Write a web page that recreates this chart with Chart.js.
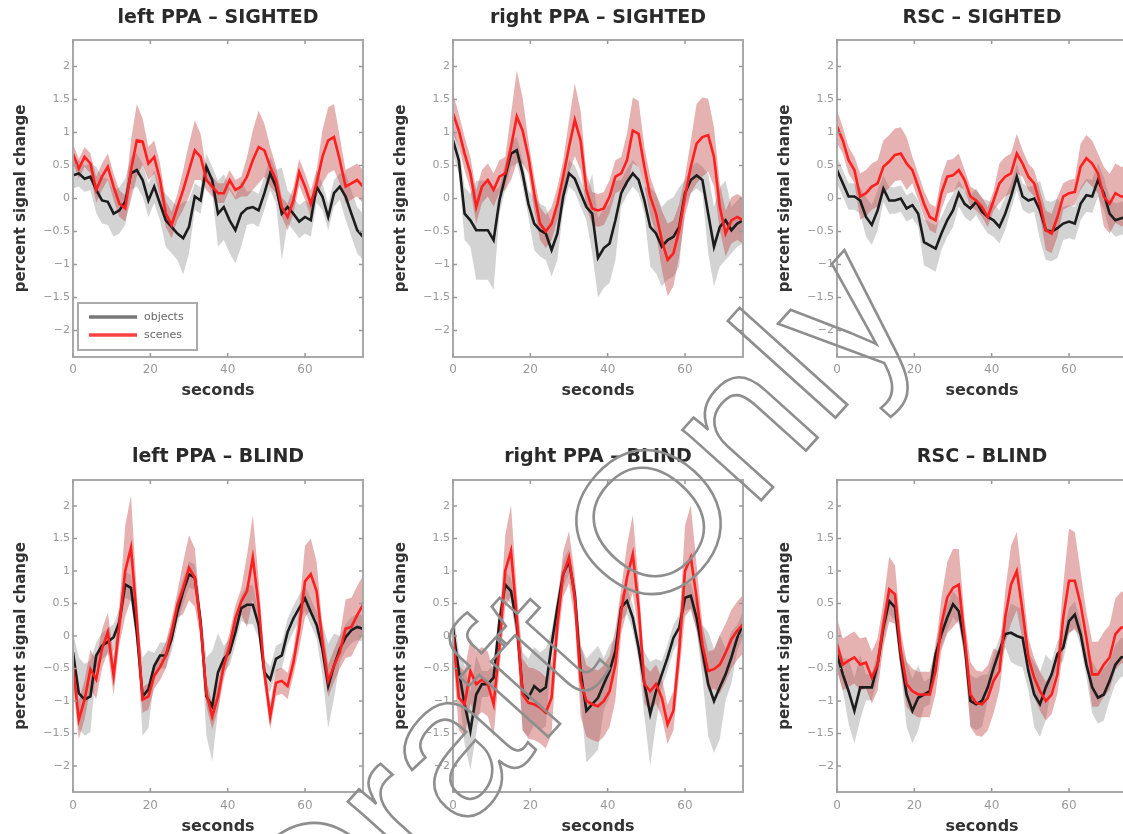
<!DOCTYPE html>
<html>
<head>
<meta charset="utf-8">
<script src="https://cdn.jsdelivr.net/npm/chart.js@4.4.1/dist/chart.umd.min.js"></script>
<style>
  html, body { margin: 0; padding: 0; background: #fff; width: 1123px; height: 834px; overflow: hidden; }
  canvas.panel { position: absolute; }
  #wm { position: absolute; left: 0; top: 0; pointer-events: none; }
</style>
</head>
<body>
<canvas id="c1" class="panel" width="372" height="410" style="left:0;top:0"></canvas>
<canvas id="c2" class="panel" width="372" height="410" style="left:380px;top:0"></canvas>
<canvas id="c3" class="panel" width="372" height="410" style="left:764px;top:0"></canvas>
<canvas id="c4" class="panel" width="372" height="420" style="left:0;top:430px"></canvas>
<canvas id="c5" class="panel" width="372" height="420" style="left:380px;top:430px"></canvas>
<canvas id="c6" class="panel" width="372" height="420" style="left:764px;top:430px"></canvas>
<svg id="wm" width="1123" height="834">
  <text x="622" y="655" text-anchor="middle" transform="rotate(-48 622 655)"
        font-family="Liberation Sans, Arial, sans-serif" font-size="200"
        fill="none" stroke="#8e8e8e" stroke-width="2.6">Draft Only</text>
</svg>
<script>
// eje de tiempo (segundos) y marcas
const seconds = [0,1.5,3,4.5,6,7.5,9,10.5,12,13.5,15,16.5,18,19.5,21,22.5,24,25.5,27,28.5,30,31.5,33,34.5,36,37.5,39,40.5,42,43.5,45,46.5,48,49.5,51,52.5,54,55.5,57,58.5,60,61.5,63,64.5,66,67.5,69,70.5,72,73.5,75];
const xTicks = [0, 20, 40, 60];
const yTicks = [-2, -1.5, -1, -0.5, 0, 0.5, 1, 1.5, 2];

// left PPA - SIGHTED
const lppaSightObj = [0.35,0.38,0.30,0.33,0.13,-0.03,-0.05,-0.23,-0.18,-0.05, 0.38,0.43,0.28,-0.03,0.18,-0.08,-0.33,-0.43,-0.53,-0.60, -0.43,0.03,-0.03,0.48,0.28,-0.23,-0.13,-0.33,-0.48,-0.23, -0.15,-0.13,-0.18,0.08,0.38,0.18,-0.23,-0.13,-0.23,-0.35, -0.28,-0.33,0.18,0.03,-0.28,0.08,0.18,0.03,-0.23,-0.48,-0.58];
const lppaSightObjSem = [0.2,0.2,0.2,0.2,0.35,0.35,0.35,0.35,0.35,0.35, 0.25,0.25,0.25,0.25,0.25,0.25,0.4,0.4,0.4,0.55, 0.4,0.2,0.2,0.2,0.2,0.5,0.5,0.5,0.5,0.5, 0.25,0.25,0.25,0.25,0.25,0.25,0.7,0.25,0.25,0.25, 0.25,0.25,0.25,0.2,0.2,0.2,0.2,0.35,0.35,0.35,0.35];
const lppaSightScn = [0.68,0.45,0.63,0.53,0.13,0.33,0.48,0.18,-0.08,-0.15, 0.43,0.88,0.86,0.53,0.63,0.28,-0.23,-0.40,-0.13,0.13, 0.43,0.73,0.63,0.28,0.18,0.08,0.08,0.28,0.13,0.18, 0.33,0.58,0.78,0.73,0.48,0.28,-0.13,-0.28,-0.03,0.40, 0.18,-0.08,0.23,0.63,0.88,0.93,0.58,0.18,0.23,0.28,0.18];
const lppaSightScnSem = [0.15,0.15,0.15,0.15,0.2,0.2,0.2,0.2,0.2,0.2, 0.45,0.55,0.35,0.25,0.25,0.25,0.2,0.2,0.2,0.3, 0.4,0.45,0.35,0.15,0.15,0.15,0.15,0.15,0.15,0.15, 0.3,0.45,0.55,0.4,0.3,0.2,0.15,0.2,0.2,0.2, 0.2,0.2,0.2,0.4,0.5,0.5,0.35,0.25,0.25,0.25,0.25];

// right PPA - SIGHTED
const rppaSightObj = [0.88,0.58,-0.23,-0.33,-0.48,-0.48,-0.48,-0.63,-0.03,0.33, 0.68,0.73,0.38,-0.08,-0.38,-0.48,-0.53,-0.78,-0.53,0.03, 0.38,0.30,0.08,-0.13,-0.23,-0.90,-0.75,-0.68,-0.33,0.08, 0.25,0.38,0.28,-0.03,-0.43,-0.53,-0.73,-0.63,-0.58,-0.43, 0.08,0.28,0.35,0.28,-0.23,-0.73,-0.43,-0.33,-0.48,-0.38,-0.33];
const rppaSightObjSem = [0.2,0.2,0.4,0.4,0.75,0.75,0.75,0.75,0.2,0.2, 0.2,0.2,0.2,0.2,0.4,0.4,0.4,0.4,0.4,0.2, 0.2,0.2,0.2,0.2,0.6,0.6,0.6,0.6,0.6,0.2, 0.2,0.2,0.2,0.2,0.6,0.6,0.6,0.6,0.6,0.6, 0.2,0.2,0.2,0.2,0.6,0.6,0.6,0.6,0.35,0.35,0.35];
const rppaSightScn = [1.29,1.03,0.68,0.38,-0.13,0.18,0.28,0.13,0.33,0.38, 0.78,1.24,1.03,0.63,0.08,-0.38,-0.50,-0.38,-0.08,0.33, 0.78,1.19,0.88,0.13,-0.15,-0.18,-0.15,0.03,0.33,0.38, 0.58,1.03,0.98,0.48,0.03,-0.23,-0.63,-0.93,-0.83,-0.48, 0.03,0.48,0.83,0.93,0.96,0.63,-0.13,-0.53,-0.33,-0.28,-0.33];
const rppaSightScnSem = [0.3,0.25,0.25,0.25,0.25,0.25,0.25,0.25,0.25,0.25, 0.5,0.7,0.5,0.25,0.25,0.25,0.25,0.25,0.25,0.25, 0.4,0.55,0.45,0.25,0.25,0.25,0.25,0.25,0.25,0.25, 0.4,0.5,0.5,0.3,0.3,0.3,0.45,0.55,0.5,0.4, 0.3,0.4,0.6,0.6,0.55,0.45,0.35,0.35,0.35,0.35,0.35];

// RSC - SIGHTED
const rscSightObj = [0.43,0.23,0.03,0.03,-0.03,-0.28,-0.40,-0.18,0.15,-0.03, -0.03,0.00,-0.15,-0.10,-0.23,-0.66,-0.71,-0.76,-0.53,-0.33, -0.18,0.08,-0.08,-0.15,-0.05,-0.20,-0.28,-0.33,-0.43,-0.23, 0.03,0.33,0.03,-0.03,0.00,-0.18,-0.48,-0.50,-0.45,-0.38, -0.35,-0.38,-0.08,0.05,0.03,0.28,0.08,-0.23,-0.33,-0.30,-0.28];
const rscSightObjSem = [0.2,0.2,0.2,0.2,0.2,0.3,0.3,0.3,0.2,0.2, 0.2,0.2,0.2,0.2,0.2,0.35,0.35,0.35,0.25,0.25, 0.25,0.2,0.2,0.2,0.2,0.2,0.25,0.25,0.25,0.25, 0.2,0.2,0.2,0.2,0.2,0.45,0.45,0.45,0.45,0.25, 0.25,0.25,0.25,0.25,0.25,0.25,0.25,0.25,0.25,0.25,0.25];
const rscSightScn = [1.09,0.88,0.58,0.43,0.03,0.08,0.18,0.23,0.48,0.56, 0.66,0.68,0.53,0.43,0.18,-0.08,-0.28,-0.33,0.08,0.33, 0.35,0.43,0.28,0.03,-0.03,-0.13,-0.28,-0.03,0.23,0.33, 0.38,0.68,0.53,0.33,0.23,-0.08,-0.48,-0.53,-0.28,0.03, 0.08,0.10,0.48,0.61,0.53,0.38,0.03,-0.08,0.08,0.03,0.03];
const rscSightScnSem = [0.25,0.2,0.2,0.2,0.35,0.35,0.35,0.35,0.4,0.4, 0.4,0.4,0.4,0.2,0.2,0.2,0.2,0.2,0.25,0.25, 0.25,0.25,0.15,0.15,0.15,0.15,0.15,0.15,0.3,0.3, 0.3,0.3,0.2,0.2,0.2,0.2,0.3,0.3,0.3,0.2, 0.2,0.2,0.35,0.35,0.35,0.3,0.45,0.45,0.45,0.45,0.45];

// left PPA - BLIND
const lppaBlindObj = [-0.25,-0.88,-0.98,-0.93,-0.30,-0.15,-0.09,-0.02,0.22,0.79, 0.74,0.06,-0.93,-0.82,-0.46,-0.30,-0.30,-0.04,0.37,0.69, 0.95,0.90,0.22,-0.93,-1.08,-0.56,-0.35,-0.25,0.06,0.43, 0.48,0.48,0.17,-0.56,-0.67,-0.35,-0.30,0.06,0.27,0.43, 0.58,0.37,0.17,-0.20,-0.77,-0.46,-0.20,-0.02,0.09,0.14,0.11];
const lppaBlindObjSem = [0.3,0.55,0.55,0.55,0.2,0.2,0.2,0.2,0.2,0.2, 0.2,0.2,0.6,0.6,0.2,0.2,0.2,0.2,0.2,0.2, 0.2,0.2,0.2,0.6,0.85,0.6,0.2,0.2,0.2,0.2, 0.3,0.3,0.2,0.2,0.2,0.2,0.2,0.2,0.2,0.2, 0.2,0.2,0.2,0.4,0.65,0.5,0.2,0.2,0.2,0.2,0.2];
const lppaBlindScn = [-0.46,-1.29,-0.98,-0.51,-0.67,-0.20,0.06,-0.61,0.17,1.00, 1.36,0.27,-0.98,-0.93,-0.61,-0.48,-0.30,0.06,0.48,0.74, 1.05,0.90,0.17,-0.88,-1.24,-0.93,-0.46,-0.15,0.27,0.53, 0.69,1.21,0.48,-0.56,-1.24,-0.72,-0.69,-0.77,-0.41,0.11, 0.84,0.95,0.69,-0.09,-0.69,-0.46,-0.25,0.11,0.14,0.32,0.48];
const lppaBlindScnSem = [0.3,0.3,0.3,0.3,0.3,0.3,0.3,0.3,0.3,0.7, 0.8,0.4,0.2,0.2,0.2,0.2,0.2,0.2,0.2,0.4, 0.5,0.45,0.2,0.2,0.2,0.2,0.2,0.2,0.2,0.2, 0.55,0.65,0.4,0.2,0.2,0.2,0.2,0.2,0.2,0.3, 0.55,0.55,0.45,0.25,0.25,0.25,0.25,0.45,0.45,0.45,0.45];

// right PPA - BLIND
const rppaBlindObj = [0.13,-0.54,-1.05,-1.46,-0.90,-0.74,-0.74,-0.64,0.23,0.79, 0.69,0.18,-0.85,-0.95,-0.77,-0.85,-0.79,-0.13,0.44,0.95, 1.15,0.64,-0.54,-1.15,-1.05,-0.95,-0.74,-0.54,-0.23,0.44, 0.54,0.28,-0.18,-0.74,-1.20,-0.85,-0.59,-0.33,-0.03,0.13, 0.59,0.62,0.28,-0.23,-0.74,-1.00,-0.79,-0.59,-0.33,-0.03,0.18];
const rppaBlindObjSem = [0.3,0.3,0.6,0.6,0.6,0.2,0.2,0.2,0.2,0.2, 0.2,0.2,0.6,0.6,0.6,0.6,0.6,0.2,0.2,0.2, 0.2,0.2,0.4,0.8,0.8,0.8,0.4,0.4,0.2,0.2, 0.2,0.2,0.2,0.5,0.8,0.5,0.2,0.2,0.2,0.2, 0.2,0.2,0.2,0.4,0.8,0.8,0.8,0.4,0.4,0.2,0.2];
const rppaBlindScn = [0.03,-0.95,-1.05,-0.54,-0.74,-0.67,-0.74,-1.05,-0.18,1.00, 1.31,0.28,-0.90,-1.03,-1.05,-1.10,-1.18,-0.95,0.18,0.95, 1.21,0.59,-0.69,-1.00,-1.05,-1.08,-1.00,-0.85,-0.44,0.38, 0.90,1.26,0.44,-0.74,-0.85,-0.74,-0.95,-1.36,-1.15,-0.23, 1.00,1.21,0.59,-0.13,-0.54,-0.51,-0.44,-0.26,-0.05,0.08,0.18];
const rppaBlindScnSem = [0.3,0.5,0.5,0.5,0.5,0.5,0.5,0.5,0.35,0.55, 0.7,0.4,0.55,0.55,0.55,0.55,0.55,0.55,0.3,0.35, 0.4,0.35,0.55,0.55,0.55,0.55,0.55,0.55,0.55,0.35, 0.5,0.6,0.4,0.3,0.3,0.3,0.3,0.3,0.3,0.35, 0.7,0.8,0.5,0.3,0.3,0.3,0.45,0.45,0.45,0.45,0.45];

// RSC - BLIND
const rscBlindObj = [-0.28,-0.59,-0.85,-1.15,-0.79,-0.79,-0.79,-0.44,0.13,0.54, 0.44,-0.33,-0.90,-1.15,-0.95,-0.90,-0.85,-0.28,0.03,0.28, 0.49,0.38,-0.13,-1.00,-1.05,-1.00,-0.79,-0.49,-0.23,0.03, 0.05,0.00,-0.03,-0.54,-0.90,-1.05,-0.79,-0.59,-0.28,-0.18, 0.23,0.33,0.03,-0.44,-0.79,-0.95,-0.90,-0.69,-0.44,-0.33,-0.31];
const rscBlindObjSem = [0.25,0.25,0.5,0.5,0.5,0.2,0.2,0.2,0.2,0.2, 0.2,0.2,0.5,0.5,0.5,0.2,0.2,0.2,0.2,0.2, 0.2,0.2,0.2,0.4,0.4,0.4,0.2,0.2,0.2,0.2, 0.45,0.45,0.45,0.3,0.5,0.5,0.5,0.2,0.2,0.2, 0.2,0.2,0.2,0.2,0.4,0.4,0.4,0.3,0.3,0.3,0.3];
const rscBlindScn = [-0.13,-0.44,-0.38,-0.33,-0.44,-0.41,-0.64,-0.44,0.18,0.72, 0.64,-0.23,-0.74,-0.85,-0.90,-0.90,-0.90,-0.54,0.18,0.59, 0.74,0.79,-0.03,-0.90,-1.03,-1.05,-0.95,-0.69,-0.54,0.28, 0.79,1.00,0.38,-0.33,-0.64,-0.85,-1.00,-0.90,-0.59,0.28, 0.85,0.85,0.49,-0.03,-0.59,-0.59,-0.44,-0.33,0.03,0.13,0.13];
const rscBlindScnSem = [0.4,0.4,0.4,0.4,0.4,0.4,0.4,0.4,0.35,0.5, 0.45,0.3,0.35,0.35,0.35,0.35,0.35,0.35,0.4,0.55, 0.6,0.55,0.3,0.5,0.5,0.5,0.5,0.5,0.3,0.4, 0.6,0.6,0.45,0.3,0.3,0.3,0.3,0.3,0.3,0.5, 0.8,0.75,0.5,0.4,0.5,0.5,0.5,0.5,0.55,0.55,0.55];

Chart.defaults.font.family = 'DejaVu Sans';

// puntos (x, y) para una serie, con desplazamiento opcional por el error
function puntos(vals, sem, signo) {
    return seconds.map((t, i) => ({ x: t, y: sem ? vals[i] + signo * sem[i] : vals[i] }));
}

// caja gris y marcas hacia dentro, estilo MATLAB
const cajaPlugin = {
    id: 'caja',
    afterDatasetsDraw(chart) {
        const { ctx, chartArea: a, scales: { x, y } } = chart;
        ctx.save();
        ctx.strokeStyle = '#a9a9a9';
        ctx.lineWidth = 2;
        ctx.strokeRect(a.left, a.top, a.right - a.left, a.bottom - a.top);
        ctx.strokeStyle = '#9a9a9a';
        ctx.lineWidth = 1.5;
        ctx.beginPath();
        x.ticks.forEach(t => {
            const px = x.getPixelForValue(t.value);
            ctx.moveTo(px, a.bottom); ctx.lineTo(px, a.bottom - 4);
            ctx.moveTo(px, a.top); ctx.lineTo(px, a.top + 4);
        });
        y.ticks.forEach(t => {
            const py = y.getPixelForValue(t.value);
            ctx.moveTo(a.left, py); ctx.lineTo(a.left + 4, py);
            ctx.moveTo(a.right, py); ctx.lineTo(a.right - 4, py);
        });
        ctx.stroke();
        ctx.restore();
    }
};

// leyenda dentro del área (abajo a la izquierda)
const leyendaPlugin = {
    id: 'leyenda',
    afterDraw(chart) {
        const { ctx, chartArea: a } = chart;
        const x0 = a.left + 5, y0 = a.bottom - 54, w = 119, h = 47;
        const items = [
            { text: chart.data.datasets[4].label, color: '#777777' },
            { text: chart.data.datasets[5].label, color: '#ff4040' }
        ];
        ctx.save();
        ctx.fillStyle = '#fff';
        ctx.fillRect(x0, y0, w, h);
        ctx.strokeStyle = '#aaaaaa';
        ctx.lineWidth = 2;
        ctx.strokeRect(x0, y0, w, h);
        ctx.font = '11px "DejaVu Sans"';
        ctx.textBaseline = 'middle';
        items.forEach((it, i) => {
            const yy = y0 + 14 + i * 18;
            ctx.strokeStyle = it.color;
            ctx.lineWidth = 3.5;
            ctx.beginPath();
            ctx.moveTo(x0 + 11, yy); ctx.lineTo(x0 + 59, yy);
            ctx.stroke();
            ctx.fillStyle = '#666';
            ctx.fillText(it.text, x0 + 66, yy);
        });
        ctx.restore();
    }
};

function crearPanel(id, titulo, objetos, objetosSem, escenas, escenasSem, fila, conLeyenda) {
    const arriba = fila === 0;
    new Chart(document.getElementById(id), {
        type: 'line',
        data: {
            datasets: [
                { label: 'objLow', data: puntos(objetos, objetosSem, -1), borderColor: 'transparent', borderWidth: 0, pointRadius: 0, fill: false, order: 5 },
                { label: 'objHigh', data: puntos(objetos, objetosSem, 1), borderColor: 'transparent', borderWidth: 0, pointRadius: 0, fill: '-1', backgroundColor: 'rgba(150,150,150,0.42)', order: 4 },
                { label: 'scnLow', data: puntos(escenas, escenasSem, -1), borderColor: 'transparent', borderWidth: 0, pointRadius: 0, fill: false, order: 3 },
                { label: 'scnHigh', data: puntos(escenas, escenasSem, 1), borderColor: 'transparent', borderWidth: 0, pointRadius: 0, fill: '-1', backgroundColor: 'rgba(195,70,70,0.42)', order: 2 },
                { label: 'objects', data: puntos(objetos), borderColor: '#1c1c1c', borderWidth: 2.6, pointRadius: 0, tension: 0, order: 1 },
                { label: 'scenes', data: puntos(escenas), borderColor: '#ff1f1f', borderWidth: 2.6, pointRadius: 0, tension: 0, order: 0 }
            ]
        },
        options: {
            responsive: false,
            animation: false,
            layout: { padding: { left: 0, right: 9, top: 0, bottom: 0 } },
            plugins: {
                legend: { display: false },
                tooltip: { enabled: false },
                title: {
                    display: true, text: titulo, color: '#2a2a2a', fullSize: false,
                    font: { size: 19, weight: 'bold' },
                    padding: arriba ? { top: 6.6, bottom: 10.6 } : { top: 15.6, bottom: 11.6 }
                }
            },
            scales: {
                x: {
                    type: 'linear', min: 0, max: 75,
                    afterBuildTicks: s => { s.ticks = xTicks.map(v => ({ value: v })); },
                    afterFit: s => { s.height = arriba ? 53 : 58; },
                    grid: { display: false, drawTicks: false },
                    border: { display: false },
                    ticks: { color: '#999', font: { size: 12 }, padding: arriba ? 6 : 7, autoSkip: false, maxRotation: 0 },
                    title: { display: true, text: 'seconds', color: '#333', font: { size: 16, weight: 'bold' }, padding: { top: 2, bottom: arriba ? 9.4 : 13.4 } }
                },
                y: {
                    min: -2.4, max: 2.4,
                    afterBuildTicks: s => { s.ticks = yTicks.map(v => ({ value: v })); },
                    afterFit: s => { s.width = 73; },
                    grid: { display: false, drawTicks: false },
                    border: { display: false },
                    ticks: { color: '#999', font: { size: 11 }, padding: 3, autoSkip: false,
                        callback: v => v < 0 ? '\u2212' + Math.abs(v) : String(v) },
                    title: { display: true, text: 'percent signal change', color: '#333', font: { size: 15, weight: 'bold' }, padding: { top: 12, bottom: 0 } }
                }
            }
        },
        plugins: conLeyenda ? [cajaPlugin, leyendaPlugin] : [cajaPlugin]
    });
}

crearPanel('c1', 'left PPA \u2013 SIGHTED', lppaSightObj, lppaSightObjSem, lppaSightScn, lppaSightScnSem, 0, true);
crearPanel('c2', 'right PPA \u2013 SIGHTED', rppaSightObj, rppaSightObjSem, rppaSightScn, rppaSightScnSem, 0, false);
crearPanel('c3', 'RSC \u2013 SIGHTED', rscSightObj, rscSightObjSem, rscSightScn, rscSightScnSem, 0, false);
crearPanel('c4', 'left PPA \u2013 BLIND', lppaBlindObj, lppaBlindObjSem, lppaBlindScn, lppaBlindScnSem, 1, false);
crearPanel('c5', 'right PPA \u2013 BLIND', rppaBlindObj, rppaBlindObjSem, rppaBlindScn, rppaBlindScnSem, 1, false);
crearPanel('c6', 'RSC \u2013 BLIND', rscBlindObj, rscBlindObjSem, rscBlindScn, rscBlindScnSem, 1, false);
</script>
</body>
</html>
